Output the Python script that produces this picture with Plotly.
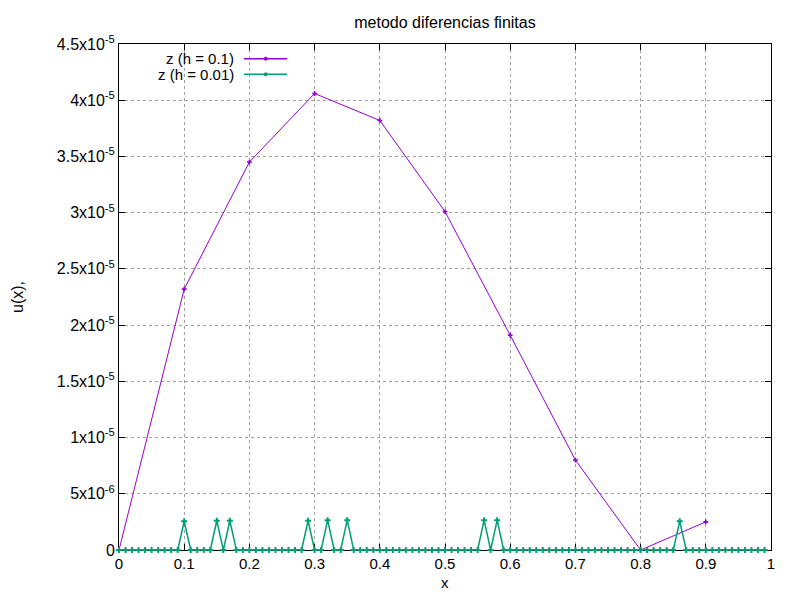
import plotly.graph_objects as go

# h = 0.1 solution
x_coarse = [0.0, 0.1, 0.2, 0.3, 0.4, 0.5, 0.6, 0.7, 0.8, 0.9]
z_coarse = [0.0, 2.32e-5, 3.45e-5, 4.06e-5, 3.82e-5, 3.01e-5, 1.91e-5, 8.0e-6, 0.0, 2.5e-6]

# h = 0.01 solution
x_fine = [0.00, 0.01, 0.02, 0.03, 0.04, 0.05, 0.06, 0.07, 0.08, 0.09,
          0.10, 0.11, 0.12, 0.13, 0.14, 0.15, 0.16, 0.17, 0.18, 0.19,
          0.20, 0.21, 0.22, 0.23, 0.24, 0.25, 0.26, 0.27, 0.28, 0.29,
          0.30, 0.31, 0.32, 0.33, 0.34, 0.35, 0.36, 0.37, 0.38, 0.39,
          0.40, 0.41, 0.42, 0.43, 0.44, 0.45, 0.46, 0.47, 0.48, 0.49,
          0.50, 0.51, 0.52, 0.53, 0.54, 0.55, 0.56, 0.57, 0.58, 0.59,
          0.60, 0.61, 0.62, 0.63, 0.64, 0.65, 0.66, 0.67, 0.68, 0.69,
          0.70, 0.71, 0.72, 0.73, 0.74, 0.75, 0.76, 0.77, 0.78, 0.79,
          0.80, 0.81, 0.82, 0.83, 0.84, 0.85, 0.86, 0.87, 0.88, 0.89,
          0.90, 0.91, 0.92, 0.93, 0.94, 0.95, 0.96, 0.97, 0.98, 0.99]
z_fine = [0, 0, 0, 0, 0, 0, 0, 0, 0, 0,
          2.55e-6, 0, 0, 0, 0, 2.6e-6, 0, 2.6e-6, 0, 0,
          0, 0, 0, 0, 0, 0, 0, 0, 0, 2.6e-6,
          0, 0, 2.65e-6, 0, 0, 2.65e-6, 0, 0, 0, 0,
          0, 0, 0, 0, 0, 0, 0, 0, 0, 0,
          0, 0, 0, 0, 0, 0, 2.65e-6, 0, 2.65e-6, 0,
          0, 0, 0, 0, 0, 0, 0, 0, 0, 0,
          0, 0, 0, 0, 0, 0, 0, 0, 0, 0,
          0, 0, 0, 0, 0, 0, 2.55e-6, 0, 0, 0,
          0, 0, 0, 0, 0, 0, 0, 0, 0, 0]

y_ticks = [0, 5e-6, 1e-5, 1.5e-5, 2e-5, 2.5e-5, 3e-5, 3.5e-5, 4e-5, 4.5e-5]
y_labels = ['0', '5x10<sup>-6</sup>', '1x10<sup>-5</sup>', '1.5x10<sup>-5</sup>',
            '2x10<sup>-5</sup>', '2.5x10<sup>-5</sup>', '3x10<sup>-5</sup>',
            '3.5x10<sup>-5</sup>', '4x10<sup>-5</sup>', '4.5x10<sup>-5</sup>']
x_ticks = [0, 0.1, 0.2, 0.3, 0.4, 0.5, 0.6, 0.7, 0.8, 0.9, 1]
x_labels = ['0', '0.1', '0.2', '0.3', '0.4', '0.5', '0.6', '0.7', '0.8', '0.9', '1']

purple = '#9400d3'
green = '#009e73'
font = 'Liberation Sans, Arial, sans-serif'

fig = go.Figure()
fig.add_trace(go.Scatter(x=x_coarse, y=z_coarse, mode='lines+markers', name='z (h = 0.1)',
                         line=dict(color=purple, width=1), cliponaxis=False,
                         marker=dict(symbol='cross', size=4, color=purple)))
fig.add_trace(go.Scatter(x=x_fine, y=z_fine, mode='lines+markers', name='z (h = 0.01)',
                         line=dict(color=green, width=1.5), cliponaxis=False,
                         marker=dict(symbol='cross', size=5, color=green)))

axis_common = dict(showline=True, linecolor='black', linewidth=1, mirror='ticks',
                   ticks='inside', ticklen=6, tickcolor='black', layer='below traces',
                   showgrid=True, gridcolor='#a0a0a0', griddash='dot', gridwidth=1,
                   zeroline=False)

fig.update_xaxes(range=[0, 1], tickvals=x_ticks, ticktext=x_labels,
                 tickfont=dict(family=font, size=15, color='black'), **axis_common)
fig.update_yaxes(range=[0, 4.5e-5], tickvals=y_ticks, ticktext=y_labels,
                 tickfont=dict(family=font, size=16, color='black'), **axis_common)

# gnuplot-style key: text on the left, line sample on the right
legend_rows = [('z (h = 0.1)', purple, 0.971), ('z (h = 0.01)', green, 0.940)]
annotations = []
shapes = []
for label, col, yp in legend_rows:
    annotations.append(dict(x=0.178, y=yp, xref='paper', yref='paper', text=label,
                            showarrow=False, xanchor='right', yanchor='middle', borderpad=0,
                            font=dict(family=font, size=15, color='black')))
    shapes.append(dict(type='line', xref='paper', yref='paper', x0=0.1917, x1=0.2577,
                       y0=yp, y1=yp, line=dict(color=col, width=1.5)))
    shapes.append(dict(type='circle', xref='paper', yref='paper',
                       x0=0.2225, x1=0.2275, y0=yp - 0.003, y1=yp + 0.003,
                       fillcolor=col, line=dict(color=col, width=1)))

annotations.append(dict(x=0, y=0.5, xref='paper', yref='paper', text='u(x),',
                        showarrow=False, textangle=-90, xshift=-102, borderpad=0,
                        xanchor='center', yanchor='middle',
                        font=dict(family=font, size=16, color='black')))
annotations.append(dict(x=0.5, y=0, xref='paper', yref='paper', text='x',
                        showarrow=False, xanchor='center', yanchor='middle', yshift=-32,
                        borderpad=0, font=dict(family=font, size=15, color='black')))

fig.update_layout(
    width=784, height=584,
    margin=dict(l=111, r=21, t=36, b=42),
    paper_bgcolor='white', plot_bgcolor='white',
    title=dict(text='metodo diferencias finitas', x=0.5, xref='paper', xanchor='center',
               y=0.976, yanchor='middle', font=dict(family=font, size=16, color='black')),
    showlegend=False,
    annotations=annotations, shapes=shapes,
)

fig.write_html('out.html')
